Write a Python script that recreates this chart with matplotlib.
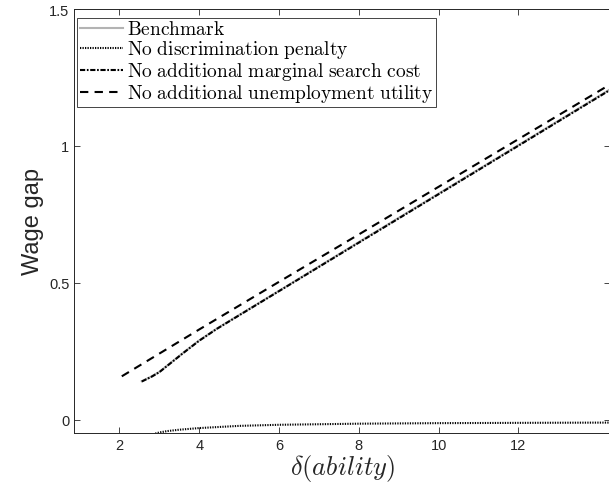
import numpy as np
import matplotlib
matplotlib.use('Agg')
import matplotlib.pyplot as plt

plt.rcParams['mathtext.fontset'] = 'cm'
plt.rcParams['font.family'] = ['Liberation Sans', 'DejaVu Sans']

# Benchmark (gray solid)
bench_x = [2.56, 2.8, 3.0, 3.3, 3.6, 4.0, 4.45, 6, 8, 10, 12, 14.3]
bench_y = [0.141, 0.158, 0.175, 0.21, 0.245, 0.29, 0.334, 0.471, 0.649, 0.826, 1.003, 1.207]

# No discrimination penalty (dotted)
nodisc_x = [2.9, 3.0, 3.2, 3.5, 4.0, 4.5, 5.0, 6.0, 7.0, 8.0, 10.0, 12.0, 14.3]
nodisc_y = [-0.05, -0.046, -0.041, -0.036, -0.030, -0.026, -0.022, -0.018, -0.016, -0.014, -0.012, -0.011, -0.010]

# No additional marginal search cost (dash-dot)
nosearch_x = [2.56, 2.8, 3.0, 3.3, 3.6, 4.0, 4.45, 6, 8, 10, 12, 14.3]
nosearch_y = [0.140, 0.157, 0.174, 0.209, 0.244, 0.289, 0.333, 0.470, 0.647, 0.824, 1.001, 1.205]

# No additional unemployment utility (dashed)
nounemp_x = [2.06, 4.0, 6.0, 8.0, 10.0, 12.0, 14.3]
nounemp_y = [0.159, 0.330, 0.504, 0.677, 0.851, 1.025, 1.225]

labels = ['Benchmark', 'No discrimination penalty',
          'No additional marginal search cost', 'No additional unemployment utility']
xticks = [2, 4, 6, 8, 10, 12]
yticks = [0, 0.5, 1, 1.5]
yticklabels = ['0', '0.5', '1', '1.5']

axcol = '#262626'

fig = plt.figure(figsize=(6.09, 5.02), dpi=100)
ax = fig.add_axes([0.122, 0.136, 0.880, 0.844])

def tex(s):
    return r'$\mathrm{' + s.replace(' ', r'\ ') + '}$'

ax.plot(bench_x, bench_y, color='#b3b3b3', lw=1.5, ls='-', label=tex(labels[0]))
ax.plot(nodisc_x, nodisc_y, color='black', lw=1.5, ls=(0, (0.6, 0.6)), label=tex(labels[1]))
ax.plot(nosearch_x, nosearch_y, color='black', lw=1.5, ls=(0, (2.5, 0.8, 0.8, 0.8)), label=tex(labels[2]))
ax.plot(nounemp_x, nounemp_y, color='black', lw=1.5, ls=(0, (4, 3)), label=tex(labels[3]))

ax.set_xlim(0.87, 14.3)
ax.set_ylim(-0.047, 1.5)
ax.set_xticks(xticks)
ax.set_yticks(yticks)
ax.set_yticklabels(yticklabels)
ax.tick_params(direction='in', length=4, width=0.6, colors=axcol, labelsize=10.5,
               top=True, right=True)
for side in ['left', 'bottom', 'top']:
    ax.spines[side].set_color(axcol)
    ax.spines[side].set_linewidth(0.7)
ax.spines['right'].set_visible(False)

ax.set_ylabel('Wage gap', fontsize=17, color=axcol)
ax.set_xlabel(r'$\delta(ability)$', fontsize=19, color=axcol, labelpad=0)

leg = ax.legend(loc='upper left', fontsize=14, frameon=True, fancybox=False,
                framealpha=1, edgecolor=axcol, handlelength=2.2, handletextpad=0.2,
                borderpad=0.15, labelspacing=0.0, borderaxespad=0.0,
                bbox_to_anchor=(0.005, 0.98))
leg.get_frame().set_linewidth(0.6)

fig.savefig('out.png', dpi=100)
